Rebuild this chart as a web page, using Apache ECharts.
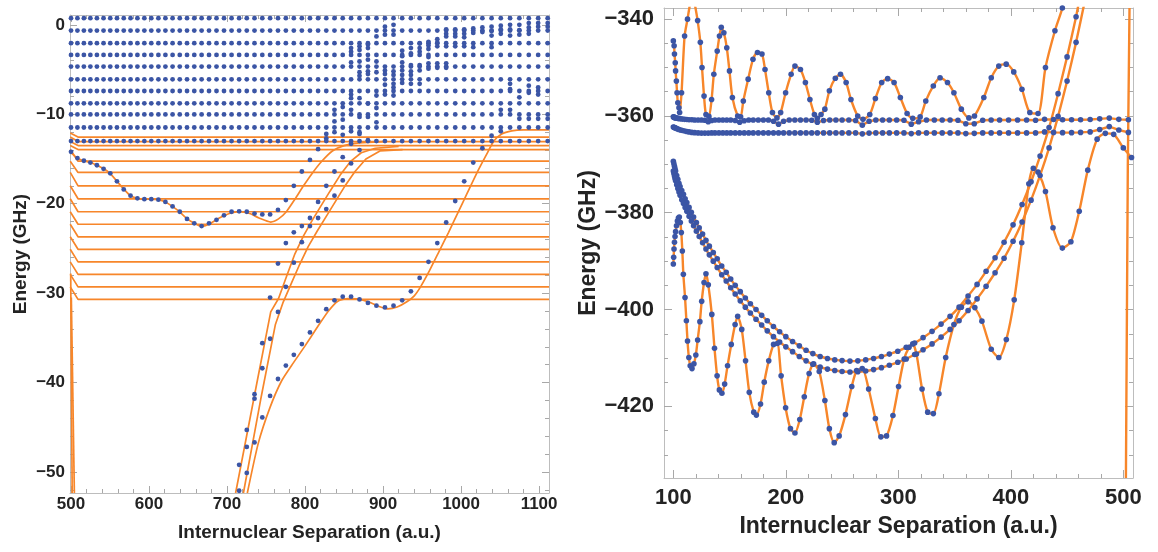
<!DOCTYPE html>
<html><head><meta charset="utf-8">
<script src="https://cdn.jsdelivr.net/npm/echarts@6/dist/echarts.min.js"></script>
<style>html,body{margin:0;padding:0;background:#fff;}#c{width:1158px;height:552px;}</style>
</head><body><div id="c"></div>
<script>
// ---------------- LEFT PANEL DATA ----------------
const leftColumnsR = [500.0,508.2,516.5,524.8,533.2,541.7,550.3,558.9,567.6,576.3,585.1,594.0,602.9,612.0,621.0,630.2,639.4,648.7,658.0,667.4,676.9,686.5,696.1,705.8,715.5,725.3,735.2,745.2,755.2,765.3,775.4,785.6,795.9,806.3,816.7,827.2,837.7,848.3,859.0,869.8,880.6,891.5,902.4,913.4,924.5,935.7,946.9,958.2,969.5,980.9,992.5,1004.0,1015.6,1027.3,1039.1,1050.9,1062.8,1074.7,1086.8,1098.8,1111.0];
const leftRowsE = [0.75,-0.64,-2.05,-3.36,-4.67,-6.09,-7.40,-8.78,-10.02,-11.48,-13.0];
const leftWellDotsE = [-14.2,-14.9,-15.2,-15.4,-15.7,-16.1,-16.6,-17.5,-18.4,-19.1,-19.4,-19.5,-19.5,-19.55,-19.8,-20.3,-20.9,-21.7,-22.2,-22.5,-22.2,-21.8,-21.3,-20.9,-20.85,-20.9,-21.1,-21.2,-21.2,-20.7,-19.6,-18.0,-16.4,-15.1,-13.9,-12.7];
const leftChainQStart = 24;
const leftChainQE = [-49.2,-45.3,-41.8,-38.4,-35.1,-32.1,-29.3,-26.6,-24.3,-22.5,-21.6,-20.6,-19.1,-17.4,-15.5,-14.0,-12.9];
const leftChainRStart = 24;
const leftChainRE = [-52.1,-47.2,-41.3,-35.6,-30.5,-26.7,-24.4,-23.2,-22.5,-21.6,-19.8,-18.0,-16.4,-14.8,-13.3,-12.2];
const leftChainPStart = 25;
const leftChainPE = [-50.1,-46.7,-43.9,-41.5,-39.6,-38.1,-36.9,-35.7,-34.4,-33.1,-31.8,-30.8,-30.4,-30.4,-30.7,-31.1,-31.4,-31.6,-31.4,-30.8,-29.8,-28.3,-26.5,-24.4,-22.1,-19.7,-17.5,-15.4,-13.8,-12.4,-11.9];
// [column index, energy]
const leftPerturbedDots = [
[35,-12.2],[36,-9.5],[36,-10.8],[36,-12.0],[37,-9.2],[37,-10.6],[37,-12.3],
[38,-2.6],[38,-3.0],[38,-4.2],[38,-7.8],[38,-8.2],[38,-9.5],[38,-11.9],
[39,-2.4],[39,-2.8],[39,-4.1],[39,-5.3],[39,-5.7],[39,-8.2],[39,-10.3],[39,-12.0],
[40,-2.2],[40,-2.6],[40,-3.9],[40,-5.2],[40,-5.5],[40,-8.8],[40,-10.3],
[41,-1.3],[41,-4.1],[41,-5.3],[41,-7.9],[41,-9.3],[41,-10.9],
[42,-0.2],[42,-1.1],[42,-5.1],[42,-5.5],[42,-6.7],[42,-7.8],
[43,0.0],[43,-1.1],[43,-5.2],[43,-5.6],[43,-6.6],[43,-7.0],[43,-7.9],
[44,-2.9],[44,-3.5],[44,-4.2],[44,-5.1],[44,-5.6],[44,-6.5],
[45,-2.6],[45,-3.2],[45,-4.5],[45,-5.2],[45,-5.6],[45,-6.6],
[46,-2.1],[46,-2.6],[46,-3.0],[46,-4.5],[46,-5.1],[46,-6.6],
[47,-1.9],[47,-2.3],[47,-2.7],[47,-3.6],[47,-4.3],[47,-4.9],
[48,-1.6],[48,-2.0],[48,-2.4],[48,-4.3],[48,-4.8],
[49,-0.5],[49,-1.0],[49,-1.3],[49,-2.4],[49,-4.3],[49,-4.8],
[50,-0.5],[50,-1.0],[50,-1.3],[50,-2.4],
[51,-0.5],[51,-1.0],[51,-1.4],[51,-2.4],
[52,-0.4],[52,-0.9],[52,-2.5],
[53,-0.3],[53,-0.8],
[54,-0.2],[54,-0.7],[54,-1.2],[54,-2.5],
[55,-0.1],[55,-0.5],[55,-1.0],[55,-9.5],
[56,0.0],[56,-0.5],[56,-1.2],[56,-6.6],[56,-7.2],[56,-9.5],
[57,0.0],[57,-0.6],[57,-1.1],[57,-8.1],[57,-10.5],
[58,0.2],[58,-0.3],[58,-1.0],[58,-6.8],[58,-7.6],[58,-10.5],
[59,0.2],[59,-0.2],[59,-7.0],[59,-7.8],[59,-10.5],
[60,0.2],[60,-0.2],[60,-10.5]
];
const leftLevelsE = [-12.55,-13.05,-13.5,-13.95,-15.25,-16.5,-18.0,-19.45,-20.9,-22.3,-23.7,-25.1,-26.5,-27.9,-29.3,-30.7];
const leftTopHookE = -12.1;
const leftHookR = [499, 509];
const leftLineW = [[499,-14.2],[508,-14.9],[516.5,-15.2],[525,-15.4],[533,-15.7],[542,-16.1],[550,-16.6],[559,-17.5],[568,-18.4],[576,-19.1],[585,-19.4],[594,-19.5],[603,-19.5],[612,-19.55],[621,-19.8],[630,-20.3],[639,-20.9],[649,-21.7],[658,-22.2],[667,-22.55],[677,-22.3],[690,-21.6],[703,-21.1],[716,-20.9],[729,-21.1],[741,-21.6],[756,-22.05],[766,-21.7],[776,-20.9],[787,-19.5],[798,-18.0],[810,-16.5],[822,-15.2],[835,-14.1],[850,-13.5],[870,-13.2],[900,-13.05]];
const leftLineA = [[711,-52.35],[735,-41.5],[756,-32.1],[766,-30.6],[776,-28.2],[787,-25.6],[798,-23.6],[809,-21.9],[820,-20.3],[832,-18.6],[845,-16.8],[858,-15.3],[872,-14.3],[890,-13.8],[920,-13.6]];
const leftLineB = [[721,-52.35],[744,-41.5],[762,-33.5],[772,-31.0],[782,-29.0],[793,-26.8],[804,-24.8],[816,-23.0],[828,-21.3],[840,-19.6],[852,-17.9],[864,-16.4],[878,-15.0],[896,-14.1],[925,-13.95]];
const leftLineC = [[726,-52.35],[740,-46.8],[755,-42.8],[770,-39.8],[785,-37.8],[800,-35.9],[815,-33.9],[830,-32.0],[842,-30.9],[855,-30.6],[868,-30.65],[882,-31.0],[895,-31.5],[906,-31.75],[918,-31.55],[930,-31.0],[940,-30.3],[948,-29.3],[960,-27.4],[972,-25.3],[984,-23.2],[996,-21.0],[1008,-18.8],[1020,-16.6],[1032,-14.6],[1042,-13.0],[1052,-12.2],[1065,-11.85],[1080,-11.75],[1112.7,-11.75]];
const leftLineV1 = [[499.6,-27.8],[501.5,-52.35]];
const leftLineV2 = [[500.4,-30.5],[504.3,-52.35]];

// ---------------- RIGHT PANEL DATA ----------------
const rightFlatR = [100,100.5,101,101.5,102,103,104,105,106.5,108,110,112,114,116.5,119,122,125,128,131,134,137,140.5,144,147.5,151,155,159,163,167,171,175.5,180,184.5,189,193.5,198,203,208,213,218,223,228,233.5,239,244.5,250,256,262,268,274,280,286,292,298.5,305,311.5,318,325,332,339,346,353,360,367.5,375,382.5,390,398,406,414,422,430,438,446,454,462,470.5,479,487.5,496,504.5];
const rightF1E = [-360.2,-360.25,-360.3,-360.35,-360.4,-360.45,-360.5,-360.55,-360.6,-360.65,-360.7,-360.75,-360.8,-360.8,-360.85,-360.85,-360.85,-360.9,-361.2,-360.95,-360.85,-360.85,-360.85,-360.85,-360.85,-360.95,-361.3,-361.0,-360.85,-360.85,-360.85,-360.85,-360.85,-361.1,-361.7,-361.1,-360.85,-360.85,-360.85,-360.85,-360.9,-361.3,-360.95,-360.85,-360.85,-360.85,-360.85,-360.95,-361.9,-361.1,-360.85,-360.85,-360.85,-360.85,-360.9,-361.7,-361.2,-360.85,-360.85,-360.85,-360.85,-360.9,-361.6,-361.6,-360.9,-360.85,-360.85,-360.85,-360.85,-360.85,-360.9,-360.7,-360.75,-360.8,-360.8,-360.8,-360.75,-360.6,-360.45,-360.7,-360.8];
const rightF2E = [-362.3,-362.35,-362.4,-362.45,-362.5,-362.6,-362.7,-362.8,-362.9,-363.0,-363.1,-363.2,-363.3,-363.4,-363.45,-363.5,-363.55,-363.55,-363.55,-363.5,-363.5,-363.5,-363.5,-363.5,-363.5,-363.5,-363.5,-363.5,-363.5,-363.5,-363.5,-363.5,-363.5,-363.5,-363.5,-363.5,-363.5,-363.5,-363.5,-363.5,-363.5,-363.5,-363.5,-363.5,-363.5,-363.5,-363.5,-363.5,-363.7,-363.55,-363.5,-363.5,-363.5,-363.5,-363.5,-363.65,-363.5,-363.5,-363.5,-363.5,-363.5,-363.5,-363.65,-363.6,-363.5,-363.5,-363.5,-363.5,-363.5,-363.5,-363.5,-363.3,-363.4,-363.45,-363.45,-363.4,-363.3,-362.8,-362.2,-362.9,-363.4];
const rightParabR = [100,100.5,101,101.5,102,103,104,105,106,107.5,109,110.5,112,114,116,118,120.5,123,126,129,132,135.5,139,143,147,151,155,159.5,164,168.5,173.5,178.5,183.5,189,194.5,200,206,212,218,224,230.5,237,243.5,250,257,264,271,278,285,292,299.5,307,314.5,322,330,338,346,354,362,370,378,386,394,402,410,418,426,434,442,450,458,466];
const rightPa1E = [-369.35,-369.9,-370.4,-370.9,-371.4,-372.3,-373.1,-373.9,-374.6,-375.4,-376.2,-377.1,-377.9,-378.9,-379.9,-380.9,-382.0,-383.1,-384.4,-385.7,-386.9,-388.2,-389.5,-391.0,-392.3,-393.7,-395.0,-396.3,-397.6,-398.8,-400.0,-401.2,-402.3,-403.5,-404.6,-405.6,-406.6,-407.5,-408.4,-409.1,-409.7,-410.1,-410.4,-410.55,-410.65,-410.6,-410.4,-410.1,-409.7,-409.2,-408.6,-407.8,-406.9,-405.8,-404.5,-403.0,-401.4,-399.5,-397.2,-394.8,-392.1,-389.3,-386.1,-382.5,-378.3,-373.6,-368.3,-362.4,-355.4,-347.8,-339.5,-330];
const rightPa2E = [-371.4,-371.9,-372.4,-372.9,-373.4,-374.2,-375.0,-375.7,-376.4,-377.3,-378.1,-378.9,-379.7,-380.7,-381.7,-382.7,-383.8,-384.9,-386.2,-387.5,-388.7,-390.0,-391.3,-392.8,-394.1,-395.5,-396.8,-398.2,-399.5,-400.7,-402.0,-403.2,-404.4,-405.6,-406.7,-407.7,-408.7,-409.7,-410.6,-411.3,-411.9,-412.3,-412.6,-412.8,-412.9,-412.85,-412.7,-412.4,-412.0,-411.5,-410.9,-410.2,-409.3,-408.3,-407.1,-405.7,-404.1,-402.3,-400.2,-397.8,-395.2,-392.4,-389.4,-385.9,-381.9,-377.4,-372.3,-366.6,-360.1,-352.8,-344.8,-336];
const rightUpper = [[100,-344.5],[100.7,-345.5],[101,-347.2],[101.7,-349.0],[102,-350.7],[102.7,-352.8],[103.3,-355.2],[104,-357.3],[105,-358.3],[105.6,-359.3],[107.3,-355.2],[110,-343.5],[112.6,-340],[114.3,-337.6],[117,-334.5],[119.3,-337.2],[121.6,-340.3],[124,-344.8],[125.5,-350],[127.3,-355.9],[129,-359.7],[131.6,-360.1],[134,-356.6],[136,-351.4],[139,-346.6],[141,-343.5],[142.6,-341.7],[144.9,-342.8],[147.5,-345.9],[149.9,-350.7],[152.5,-356.2],[157.2,-360],[159.8,-360.2],[162.2,-356.9],[166.5,-352.4],[170.8,-348.3],[174.8,-346.9],[178.8,-347.2],[181.5,-350.4],[184.8,-355.2],[188.1,-359.3],[192.1,-360.4],[195.4,-359.3],[199.8,-355.2],[204.7,-351.4],[208.1,-349.7],[213,-350.4],[217.4,-353.1],[221.4,-356.6],[225.4,-359.7],[228,-360.5],[231.3,-359.7],[234.7,-358.6],[238.7,-354.8],[244,-352.2],[248.6,-351.4],[253.6,-353.1],[257.9,-356.6],[263.9,-360],[268.6,-360.7],[274.6,-359.7],[279.6,-356.4],[285.2,-353.1],[290.5,-352.3],[296.2,-353.1],[301.8,-356.2],[307.8,-359.5],[312.8,-360.5],[319.4,-360.2],[324.4,-356.9],[331.1,-353.8],[337.1,-352.1],[343.7,-353.1],[349.4,-355.2],[356,-358.6],[362.7,-360.4],[367.7,-360],[376,-356.2],[382.6,-352.1],[389.3,-349.7],[395.9,-349.3],[402.6,-350.9],[409.9,-354.5],[416.9,-359.3],[424.2,-359.5],[430.8,-350],[439.2,-342.4],[445.8,-337.7],[448,-334.5]];
const rightLower = [[100,-390.6],[100.3,-389.2],[100.6,-387.5],[101,-386.1],[101.5,-384.9],[102,-383.9],[102.8,-382.7],[103.6,-381.7],[104.5,-381.1],[105.3,-380.9],[106.2,-382.0],[107.1,-384.1],[108,-387.9],[108.9,-392.7],[110.4,-397.5],[111.6,-402.3],[112.6,-406.5],[113.8,-409.9],[115,-411.6],[116.6,-412.2],[118.3,-411.2],[120,-409.4],[121.6,-406.3],[123.6,-402.5],[125.2,-398.3],[127.3,-394.4],[129,-392.6],[131.1,-394.9],[134.2,-401],[136.6,-408],[138.9,-413.7],[140.9,-416.6],[143.2,-417.3],[145.6,-415.4],[148.2,-411.6],[151.5,-407.2],[154.9,-403.1],[157.2,-401.4],[160.8,-404.1],[164.2,-410.6],[167.5,-417.1],[171.5,-421.2],[173.8,-421.8],[177.5,-419.5],[180.8,-415],[184.8,-410.6],[189.1,-407.2],[192.4,-407],[195.8,-413.7],[199.8,-420.3],[204.1,-424.6],[208.1,-425.5],[212.4,-422.7],[216.4,-418],[220.7,-413.2],[224.7,-411.2],[229.7,-412.8],[234.7,-418.8],[238.7,-424.6],[243,-427.5],[247.4,-426.1],[253,-421.7],[258.6,-415.9],[262.9,-412.6],[267.9,-412.2],[273.6,-416.4],[279.6,-422.5],[284.5,-426.3],[289.5,-426.1],[295.2,-421.9],[300.2,-415.9],[305.2,-410.2],[309.5,-407.8],[312.8,-407.1],[316.1,-409.2],[321.1,-416.4],[326.1,-421.2],[331.1,-421.5],[336.1,-417.4],[342.1,-409.9],[349.4,-403.1],[356,-399.5],[362,-398.4],[368,-399.6],[374.3,-402.4],[382.6,-408.2],[389.3,-409.9],[396,-406.2],[403,-398],[409.7,-386.2],[416,-374],[420,-370.8],[424.2,-371.6],[430.8,-375.6],[437.5,-383.1],[445.8,-387.3],[453.4,-386],[460.8,-379.7],[468.4,-371.2],[476.7,-364.8],[484,-363.6],[491.4,-363.8],[500,-366.6],[507.3,-368.6]];
const rightVertical = [[505.5,-337.7],[504,-370],[502.3,-434.8]];

// ---------------- AXES ----------------
const leftXTicks = [500,600,700,800,900,1000,1100];
const leftYTicks = [-50,-40,-30,-20,-10,0];
const rightXTicks = [100,200,300,400,500];
const rightYTicks = [-420,-400,-380,-360,-340];

const ORANGE = '#f7862a', BLUE = '#3b55a5', TXT = '#232323', FRAME = '#bdbdbd', TICK = '#a8a8a8';
const FONT = 'Liberation Sans, Arial, sans-serif';

function minorList(min, max, step) {
  const a = [];
  for (let v = Math.ceil(min / step) * step; v <= max + 1e-9; v += step) a.push(+v.toFixed(6));
  return a;
}
function fmt(v) { return v < 0 ? '\u2212' + Math.abs(v) : String(v); }

const xAxes = [], yAxes = [];
function addAxes(g, c) {
  const common = { type: 'value', gridIndex: g, splitLine: { show: false }, silent: true };
  const mk = (dim, pos, major, showLab, range, minorStep, ticks, isMain) => {
    const base = Object.assign({}, common, {
      position: pos, min: range[0], max: range[1],
      axisLine: { show: isMain, onZero: false, lineStyle: { color: FRAME, width: 1 } },
      axisTick: { show: true, inside: true, length: major ? c.majorLen : c.minorLen,
        customValues: major ? ticks : minorList(range[0], range[1], minorStep),
        lineStyle: { color: TICK, width: 1 } },
      axisLabel: { show: false }
    });
    if (showLab) {
      base.axisLabel = { show: true, customValues: ticks, formatter: fmt, color: TXT,
        fontFamily: FONT, fontWeight: 'bold', fontSize: c.labelSize,
        margin: dim === 'x' ? c.xLabelMargin : c.yLabelMargin };
      base.name = dim === 'x' ? 'Internuclear Separation (a.u.)' : 'Energy (GHz)';
      base.nameLocation = 'middle';
      base.nameGap = dim === 'x' ? c.xNameGap : c.yNameGap;
      base.nameTextStyle = { color: TXT, fontFamily: FONT, fontWeight: 'bold', fontSize: c.nameSize };
    }
    return base;
  };
  xAxes.push(mk('x', 'bottom', false, true, c.x, c.xMinor, c.xTicks, true));
  xAxes.push(mk('x', 'bottom', true, false, c.x, c.xMinor, c.xTicks, false));
  xAxes.push(mk('x', 'top', false, false, c.x, c.xMinor, c.xTicks, true));
  xAxes.push(mk('x', 'top', true, false, c.x, c.xMinor, c.xTicks, false));
  yAxes.push(mk('y', 'left', false, true, c.y, c.yMinor, c.yTicks, true));
  yAxes.push(mk('y', 'left', true, false, c.y, c.yMinor, c.yTicks, false));
  yAxes.push(mk('y', 'right', false, false, c.y, c.yMinor, c.yTicks, true));
  yAxes.push(mk('y', 'right', true, false, c.y, c.yMinor, c.yTicks, false));
}
addAxes(0, { x: [498.7, 1112.7], y: [-52.35, 1.1], xTicks: leftXTicks, yTicks: leftYTicks, xMinor: 20, yMinor: 2,
  labelSize: 17, nameSize: 19, xLabelMargin: 3, yLabelMargin: 5, xNameGap: 30, yNameGap: 40, majorLen: 7, minorLen: 4 });
addAxes(1, { x: [91.7, 508.6], y: [-434.8, -337.7], xTicks: rightXTicks, yTicks: rightYTicks, xMinor: 20, yMinor: 5,
  labelSize: 22, nameSize: 23, xLabelMargin: 9, yLabelMargin: 10, xNameGap: 37, yNameGap: 64, majorLen: 8, minorLen: 4 });

// ---------------- SERIES ----------------
const series = [];
function line(g, data, width, smooth) {
  series.push({ type: 'line', xAxisIndex: g * 4, yAxisIndex: g * 4, data: data, showSymbol: false,
    smooth: smooth || false, lineStyle: { color: ORANGE, width: width }, silent: true, z: 2 });
}
function dots(g, data, size) {
  series.push({ type: 'scatter', xAxisIndex: g * 4, yAxisIndex: g * 4, data: data, symbol: 'circle',
    symbolSize: size, itemStyle: { color: BLUE, opacity: 1 }, silent: true, z: 3 });
}
const col = (start, es) => es.map((e, i) => [leftColumnsR[start + i], e]);

leftLevelsE.forEach((e, i) => {
  const prev = i === 0 ? leftTopHookE : leftLevelsE[i - 1];
  line(0, [[leftHookR[0], prev], [leftHookR[1], e], [1112.7, e]], 1.7);
});
line(0, leftLineW, 1.7, 0.2);
line(0, leftLineA, 1.7);
line(0, leftLineB, 1.7);
line(0, leftLineC, 1.7, 0.2);
line(0, leftLineV1, 1.7);
line(0, leftLineV2, 1.7);
const gridDots = [];
leftColumnsR.forEach(r => leftRowsE.forEach(e => gridDots.push([r, e])));
dots(0, gridDots, 4.8);
dots(0, col(0, leftWellDotsE), 4.8);
dots(0, col(leftChainQStart, leftChainQE), 4.8);
dots(0, col(leftChainRStart, leftChainRE), 4.8);
dots(0, col(leftChainPStart, leftChainPE), 4.8);
dots(0, leftPerturbedDots.map(([k, e]) => [leftColumnsR[k], e]), 4.8);

const pair = (xs, ys) => xs.map((x, i) => [x, ys[i]]);
const rF1 = pair(rightFlatR, rightF1E), rF2 = pair(rightFlatR, rightF2E);
const rP1 = pair(rightParabR, rightPa1E), rP2 = pair(rightParabR, rightPa2E);
[rF1, rF2].forEach(d => line(1, d, 2.4));
[rP1, rP2].forEach(d => line(1, d, 2.4, 0.2));
line(1, rightUpper, 2.4, 0.25);
line(1, rightLower, 2.4, 0.25);
line(1, rightVertical, 2.4);
[rF1, rF2, rP1, rP2, rightUpper, rightLower].forEach(d => dots(1, d, 5.6));

const chart = echarts.init(document.getElementById('c'), null, { renderer: 'canvas' });
chart.setOption({
  animation: false,
  backgroundColor: '#ffffff',
  grid: [
    { left: 70, top: 15, width: 479, height: 478, containLabel: false },
    { left: 664, top: 8, width: 469, height: 470, containLabel: false }
  ],
  xAxis: xAxes,
  yAxis: yAxes,
  series: series
});
</script></body></html>
